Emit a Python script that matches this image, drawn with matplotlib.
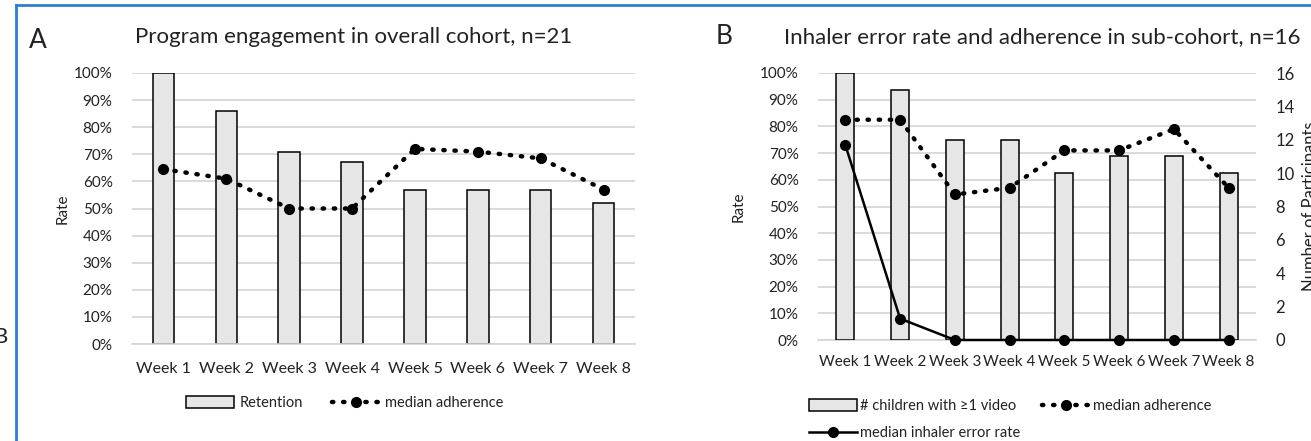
import numpy as np
import matplotlib.pyplot as plt
from matplotlib.patches import Rectangle
from matplotlib.lines import Line2D
from matplotlib.ticker import PercentFormatter

plt.rcParams['font.family'] = ['Lato', 'DejaVu Sans']

# 数据
weeks = ['Week 1', 'Week 2', 'Week 3', 'Week 4', 'Week 5', 'Week 6', 'Week 7', 'Week 8']
retention = [100, 86, 71, 67, 57, 57, 57, 52]              # A: 留存率 %
adherence_a = [64.5, 61, 50, 50, 72, 71, 68.5, 57]          # A: 中位依从性 %
children_video = [16, 15, 12, 12, 10, 11, 11, 10]           # B: 人数
adherence_b = [82.5, 82.5, 54.5, 57, 71, 71, 79, 57]        # B: 中位依从性 %
error_rate_b = [73, 8, 0, 0, 0, 0, 0, 0]                    # B: 中位吸入错误率 %

W, H = 1311, 441
fig = plt.figure(figsize=(W / 100, H / 100), dpi=100)

txt_c = '#222222'
bar_kw = dict(color='#e6e6e6', edgecolor='black', linewidth=1.1, zorder=2)
dot_kw = dict(color='black', linestyle=(0, (0.3, 2.2)), linewidth=3.2,
              dash_capstyle='round', marker='o', markersize=7, zorder=4)
grid_c = '#d4d4d4'
x = np.arange(len(weeks))


def style_axis(ax):
    ax.set_xlim(-0.5, len(weeks) - 0.5)
    ax.set_ylim(0, 100)
    ax.set_yticks(np.arange(0, 101, 10))
    ax.yaxis.set_major_formatter(PercentFormatter(decimals=0))
    ax.grid(axis='y', color=grid_c, linewidth=1.2, zorder=0)
    ax.set_axisbelow(True)
    for s in ax.spines.values():
        s.set_visible(False)
    ax.spines['bottom'].set_visible(True)
    ax.spines['bottom'].set_color(grid_c)
    ax.spines['bottom'].set_linewidth(1.2)
    ax.tick_params(length=0, labelsize=11, colors=txt_c)
    ax.tick_params(axis='y', pad=14)
    ax.set_xticks(x)
    ax.set_xticklabels(weeks)
    ax.set_ylabel('Rate', fontsize=11, color=txt_c)


# ---- A ----
axA = fig.add_axes([132 / W, 1 - 344 / H, (635 - 132) / W, (344 - 73) / H])
style_axis(axA)
axA.bar(x, retention, width=0.34, **bar_kw)
axA.plot(x, adherence_a, **dot_kw)
axA.tick_params(axis='x', pad=13, labelsize=11.5)
axA.yaxis.set_label_coords(-0.125, 0.5)
fig.text(354 / W, 1 - 37 / H, 'Program engagement in overall cohort, n=21',
         ha='center', va='center', fontsize=16, color=txt_c)
fig.text(38 / W, 1 - 40 / H, 'A', ha='center', va='center', fontsize=19, color=txt_c)

hA = [Rectangle((0, 0), 1, 1, facecolor='#e6e6e6', edgecolor='black', linewidth=1.1),
      Line2D([], [], **dot_kw)]
axA.legend(hA, ['Retention', 'median adherence'], loc='center',
           bbox_to_anchor=(345 / W, 1 - 403 / H), bbox_transform=fig.transFigure,
           ncol=2, frameon=False, fontsize=10.5, handlelength=3.3, handleheight=0.8,
           columnspacing=2.0, handletextpad=0.35, labelcolor=txt_c)

# ---- B ----
axB = fig.add_axes([818 / W, 1 - 340 / H, (1256 - 818) / W, (340 - 73) / H])
style_axis(axB)
axB.tick_params(axis='x', pad=11, labelsize=11)
axB.yaxis.set_label_coords(-0.165, 0.5)
axB2 = axB.twinx()
axB2.set_ylim(0, 16)
axB2.set_yticks(np.arange(0, 17, 2))
for s in axB2.spines.values():
    s.set_visible(False)
axB2.tick_params(length=0, labelsize=12, colors=txt_c, pad=14)
axB2.bar(x, children_video, width=0.33, **bar_kw)
axB2.set_ylabel('Number of Participants', fontsize=12, color=txt_c)
axB2.yaxis.set_label_coords(1.105, 0.5)
err_kw = dict(color='black', linewidth=1.8, marker='o', markersize=7, zorder=5)
axB2.plot(x, np.array(adherence_b) * 0.16, **dot_kw)
axB2.plot(x, np.array(error_rate_b) * 0.16, clip_on=False, **err_kw)
fig.text(1042 / W, 1 - 37 / H, 'Inhaler error rate and adherence in sub-cohort, n=16',
         ha='center', va='center', fontsize=16, color=txt_c)
fig.text(724 / W, 1 - 37 / H, 'B', ha='center', va='center', fontsize=19, color=txt_c)

hB = [Rectangle((0, 0), 1, 1, facecolor='#e6e6e6', edgecolor='black', linewidth=1.1),
      Line2D([], [], **err_kw),
      Line2D([], [], **dot_kw)]
fig.legend(hB, ['# children with ≥1 video', 'median inhaler error rate', 'median adherence'],
           loc='upper left', bbox_to_anchor=(796 / W, 1 - 386 / H),
           ncol=2, frameon=False, fontsize=10.5, handlelength=3.3, handleheight=0.8,
           columnspacing=1.5, handletextpad=0.2, labelspacing=0.9, labelcolor=txt_c)

# 蓝色边框 + 被截断的 B
fig.add_artist(Line2D([16 / W, 16 / W], [0, 1 - 5 / H], color='#2b7fd4', linewidth=2,
                      transform=fig.transFigure))
fig.add_artist(Line2D([16 / W, 1], [1 - 5 / H, 1 - 5 / H], color='#2b7fd4', linewidth=2,
                      transform=fig.transFigure))
fig.text(-6 / W, 1 - 337 / H, 'B', ha='left', va='center', fontsize=16, color=txt_c)

fig.savefig('out.png', dpi=100)
